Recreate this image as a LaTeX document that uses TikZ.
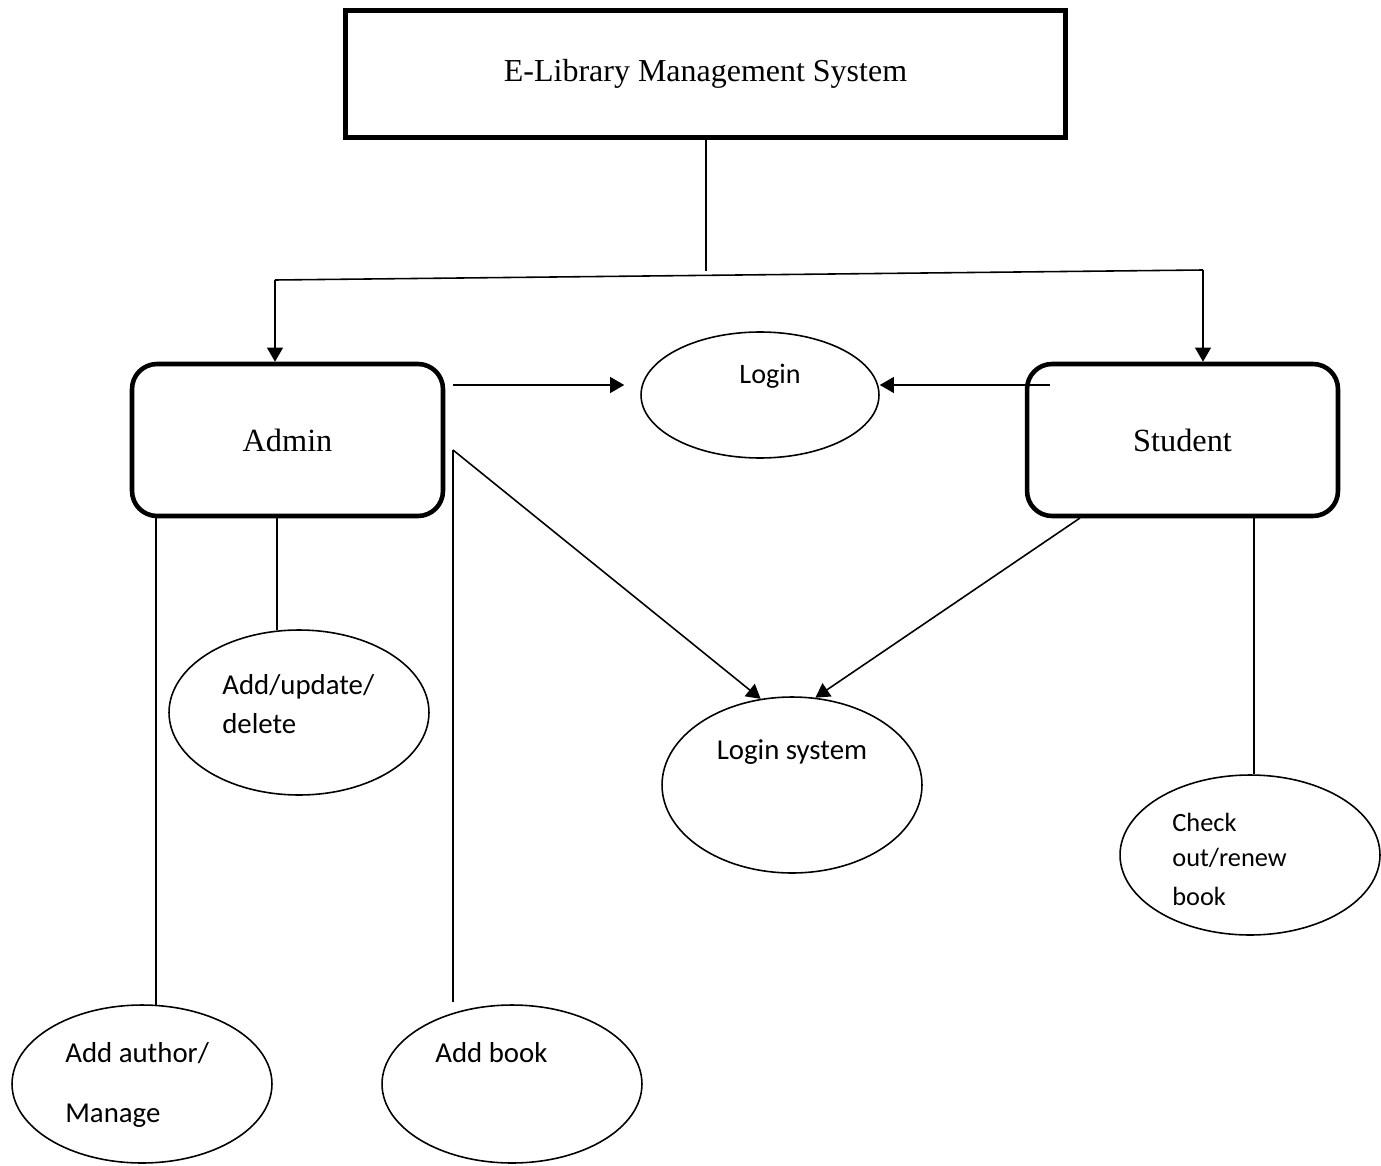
\documentclass[tikz,border=0pt]{standalone}
\usepackage{fontspec}
\setmainfont{Liberation Serif}
\newfontfamily\calfont{Carlito}
\usetikzlibrary{shapes.geometric,arrows.meta,calc}
\begin{document}
\begin{tikzpicture}[x=0.02cm,y=-0.02cm,
  thin line/.style={line width=0.9pt},
  arr/.style={thin line,-{Triangle[length=8pt,width=9pt]}},
  bigbox/.style={draw,line width=3pt,minimum width=14.4cm,minimum height=2.54cm,inner sep=0pt,font=\fontsize{18.2}{21}\selectfont},
  actor/.style={draw,line width=2.6pt,rounded corners=0.5cm,minimum width=6.22cm,minimum height=3.04cm,inner sep=0pt,font=\fontsize{18.4}{21}\selectfont},
  oval/.style={draw,thin line,ellipse,inner sep=0pt},
  lbl/.style={font=\calfont\fontsize{16.4}{19}\selectfont,inner sep=0pt}]
\useasboundingbox (0,0) rectangle (1381,1165);

\node[bigbox] (sys) at (705.5,74) {E-Library Management System};
\node[actor] (admin) at (287.5,440) {Admin};
\node[actor] (student) at (1182.5,440) {Student};

\node[oval,minimum width=4.76cm,minimum height=2.52cm] (login) at (760,395) {};
\node[oval,minimum width=5.2cm,minimum height=3.52cm] (lsys) at (792,785) {};
\node[oval,minimum width=5.2cm,minimum height=3.3cm] (aud) at (299,712.5) {};
\node[oval,minimum width=5.2cm,minimum height=3.16cm] (aam) at (142,1084) {};
\node[oval,minimum width=5.2cm,minimum height=3.16cm] (ab) at (512,1084) {};
\node[oval,minimum width=5.2cm,minimum height=3.2cm] (chk) at (1250,855) {};

\node[lbl,font=\calfont\fontsize{16}{19}\selectfont] (tlogin) at (770,376) {Login};
\node[lbl] (tlsys) at (792,752) {Login system};
\node[lbl,anchor=west] (taud1) at (222,687) {Add/update/};
\node[lbl,anchor=west] (taud2) at (222,724) {delete};
\node[lbl,anchor=west] (taam1) at (65,1053) {Add author/};
\node[lbl,anchor=west] (taam2) at (65,1116) {Manage};
\node[lbl,anchor=west] (tab) at (435,1053) {Add book};
\node[lbl,anchor=west,font=\calfont\fontsize{15}{18}\selectfont] (tchk1) at (1172,822) {Check};
\node[lbl,anchor=west,font=\calfont\fontsize{15}{18}\selectfont] (tchk2) at (1172,858) {out/renew};
\node[lbl,anchor=west,font=\calfont\fontsize{15}{18}\selectfont] (tchk3) at (1172,896) {book};

\coordinate (busL) at (275,280);
\coordinate (busR) at (1203,270);
\coordinate (busJ) at (706,271);
\coordinate (a1) at (453,385);
\coordinate (a2) at (453,450);
\coordinate (s1) at (1050,385);
\coordinate (s2) at (1080,518);

\draw[thin line] (sys.south -| busJ) -- (busJ);
\draw[thin line] (busL) -- (busR);
\draw[arr] (busL) -- (admin.north -| busL);
\draw[arr] (busR) -- (student.north -| busR);

\draw[arr,shorten >=0.32cm] (a1) -- (a1 -| login.west);
\draw[arr] (s1) -- (s1 -| login.east);
\draw[arr] (a2) -- (lsys.110);
\draw[arr] (s2) -- (lsys.75);

\draw[thin line] (admin.south -| aud.105.8) -- (aud.105.8);
\draw[thin line] (admin.south -| aam.80.6) -- (aam.80.6);
\draw[thin line] (a2) -- ($(a2 |- ab.north)+(0,-2)$);
\draw[thin line] (student.south -| chk.87) -- (chk.87);
\end{tikzpicture}
\end{document}
